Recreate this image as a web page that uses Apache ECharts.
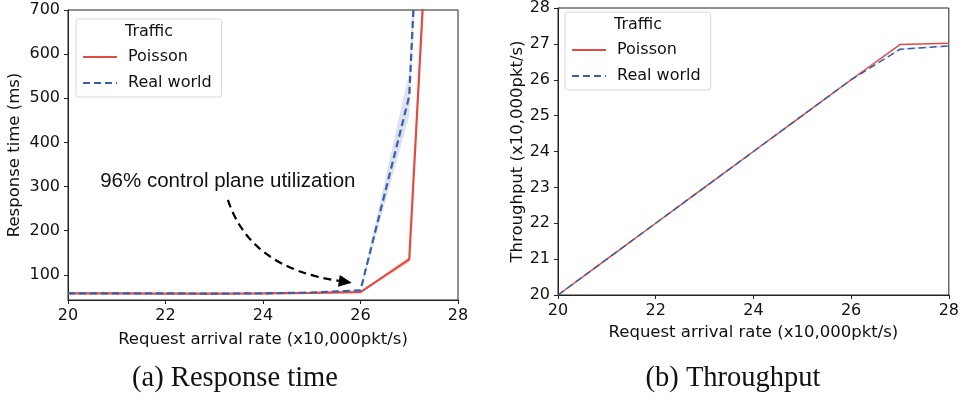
<!DOCTYPE html>
<html>
<head>
<meta charset="utf-8">
<script src="https://cdn.jsdelivr.net/npm/echarts@6/dist/echarts.min.js"></script>
<style>
  html, body { margin: 0; padding: 0; background: #fff; }
  #chart { width: 962px; height: 400px; }
</style>
</head>
<body>
<div id="chart"></div>
<script>
// request arrival rate (x10,000pkt/s)
const rates = [20, 21, 22, 23, 24, 25, 26, 27, 28];

// (a) response time, ms
const rtPoisson = [58, 58, 57.5, 57.5, 58, 59, 61, 135, 2200];
const rtPoissonLow = [57, 57, 56.5, 56.5, 57, 58, 60, 128, 2100];
const rtPoissonHigh = [59, 59, 58.5, 58.5, 59, 60, 62, 142, 2300];
const rtReal = [58, 58, 58, 57.5, 58, 60, 65, 505, 2800];
const rtRealLow = [57, 57, 57, 56.5, 57, 59, 63, 460, 2600];
const rtRealHigh = [59, 59, 59, 58.5, 59, 61, 67, 560, 3000];
const rtTicks = [100, 200, 300, 400, 500, 600, 700];

// (b) throughput, x10,000pkt/s
const tpPoisson = [20, 21, 22, 23, 24, 25, 26, 26.98, 27.02];
const tpReal = [20, 21, 22, 23, 24, 25, 26, 26.85, 26.94];
const tpRealLow = [20, 21, 22, 23, 24, 25, 26, 26.82, 26.91];
const tpRealHigh = [20, 21, 22, 23, 24, 25, 26, 26.88, 26.97];

const RED = '#e24a42';
const BLUE = '#3b5ea6';
const FONT = 'DejaVu Sans';

const pairs = (ys) => rates.map((x, i) => [x, ys[i]]);

// confidence band drawn as one polygon through the axis coords
function band(lo, hi, color, xi) {
  return {
    type: 'custom', xAxisIndex: xi, yAxisIndex: xi, silent: true, z: 1, clip: true,
    data: rates.map((x, i) => [x, lo[i], hi[i]]),
    renderItem: (params, api) => {
      if (params.dataIndex !== 0) return;
      const top = rates.map((x, i) => api.coord([x, hi[i]]));
      const bot = rates.map((x, i) => api.coord([x, lo[i]])).reverse();
      return { type: 'polygon', shape: { points: top.concat(bot) }, style: { fill: color } };
    }
  };
}

function line(name, ys, color, dashed, xi, w) {
  return { name: name, type: 'line', xAxisIndex: xi, yAxisIndex: xi, data: pairs(ys),
    symbol: 'none', z: 3,
    lineStyle: { color: color, width: w, type: dashed ? [7, 4] : 'solid' },
    itemStyle: { color: color } };
}

const axisCommon = {
  axisLine: { show: true, onZero: false, lineStyle: { color: '#222', width: 1 } },
  axisTick: { show: true, length: 4, lineStyle: { color: '#222' } },
  splitLine: { show: false },
  axisLabel: { color: '#111', fontFamily: FONT, fontSize: 16 },
  nameTextStyle: { color: '#111', fontFamily: FONT, fontSize: 16.5 },
  nameLocation: 'middle'
};

const chart = echarts.init(document.getElementById('chart'));

const legendCommon = {
  data: ['Poisson', 'Real world'],
  orient: 'vertical',
  itemWidth: 34, itemHeight: 14, itemGap: 10,
  itemStyle: { opacity: 0 },
  backgroundColor: '#fff', borderColor: '#d8d8d8', borderWidth: 1, borderRadius: 3,
  padding: [30, 10, 6, 6],
  textStyle: { fontFamily: FONT, fontSize: 16, color: '#111', padding: [0, 0, 0, 6] }
};

chart.setOption({
  animation: false,
  grid: [
    { left: 68, top: 10, width: 390, height: 290, show: true, borderColor: '#222', borderWidth: 1 },
    { left: 558, top: 3, width: 391, height: 292, show: true, borderColor: '#222', borderWidth: 1 }
  ],
  legend: [
    Object.assign({ left: 76, top: 19 }, legendCommon),
    Object.assign({ left: 565, top: 12 }, legendCommon)
  ],
  xAxis: [
    Object.assign({}, axisCommon, { type: 'value', gridIndex: 0, min: 20, max: 28, interval: 2,
      name: 'Request arrival rate (x10,000pkt/s)', nameGap: 31 }),
    Object.assign({}, axisCommon, { type: 'value', gridIndex: 1, min: 20, max: 28, interval: 2,
      name: 'Request arrival rate (x10,000pkt/s)', nameGap: 25 })
  ],
  yAxis: [
    Object.assign({}, axisCommon, { type: 'value', gridIndex: 0, min: 43, max: 700,
      name: 'Response time (ms)', nameGap: 45,
      axisLabel: Object.assign({}, axisCommon.axisLabel, { customValues: rtTicks }),
      axisTick: Object.assign({}, axisCommon.axisTick, { customValues: rtTicks }) }),
    Object.assign({}, axisCommon, { type: 'value', gridIndex: 1, min: 20, max: 28, interval: 1,
      name: 'Throughput (x10,000pkt/s)', nameGap: 31 })
  ],
  series: [
    band(rtPoissonLow, rtPoissonHigh, 'rgba(226,74,66,0.2)', 0),
    band(rtRealLow, rtRealHigh, 'rgba(59,94,166,0.18)', 0),
    line('Poisson', rtPoisson, RED, false, 0, 2.2),
    line('Real world', rtReal, BLUE, true, 0, 2.2),
    band(tpRealLow, tpRealHigh, 'rgba(59,94,166,0.15)', 1),
    line('Poisson', tpPoisson, RED, false, 1, 1.5),
    line('Real world', tpReal, BLUE, true, 1, 1.5)
  ]
});

// annotation arrow + legend titles + captions
const p = (x, y) => chart.convertToPixel({ gridIndex: 0 }, [x, y]);
const a0 = p(23.28, 270), a2 = p(25.7, 84), tip = p(25.82, 82);
const c1 = [a0[0] + 22, a2[1] - 14];
const ang = Math.atan2(tip[1] - a2[1], tip[0] - a2[0]);
const L = 13, W = 6;
const back = [tip[0] - L * Math.cos(ang), tip[1] - L * Math.sin(ang)];
const head = [tip,
  [back[0] + W * Math.sin(ang), back[1] - W * Math.cos(ang)],
  [back[0] - W * Math.sin(ang), back[1] + W * Math.cos(ang)]];
const txt = p(20.66, 312);

chart.setOption({
  graphic: [
    { type: 'bezierCurve', shape: { x1: a0[0], y1: a0[1], cpx1: c1[0], cpy1: c1[1], x2: back[0], y2: back[1] },
      style: { stroke: '#000', lineWidth: 2.2, lineDash: [8, 5], fill: null }, z: 10 },
    { type: 'polygon', shape: { points: head }, style: { fill: '#000' }, z: 10 },
    { type: 'text', x: txt[0], y: txt[1], z: 10,
      style: { text: '96% control plane utilization', fill: '#111', font: '20.5px "Liberation Sans"',
        verticalAlign: 'middle' } },
    { type: 'text', x: 149, y: 32, z: 20,
      style: { text: 'Traffic', fill: '#111', font: '16px "DejaVu Sans"', align: 'center', verticalAlign: 'middle' } },
    { type: 'text', x: 638, y: 25, z: 20,
      style: { text: 'Traffic', fill: '#111', font: '16px "DejaVu Sans"', align: 'center', verticalAlign: 'middle' } },
    { type: 'text', x: 235, y: 379,
      style: { text: '(a) Response time', fill: '#111', font: '28.5px "Liberation Serif"', align: 'center', verticalAlign: 'middle' } },
    { type: 'text', x: 733, y: 379,
      style: { text: '(b) Throughput', fill: '#111', font: '28.5px "Liberation Serif"', align: 'center', verticalAlign: 'middle' } }
  ]
});
</script>
</body>
</html>
